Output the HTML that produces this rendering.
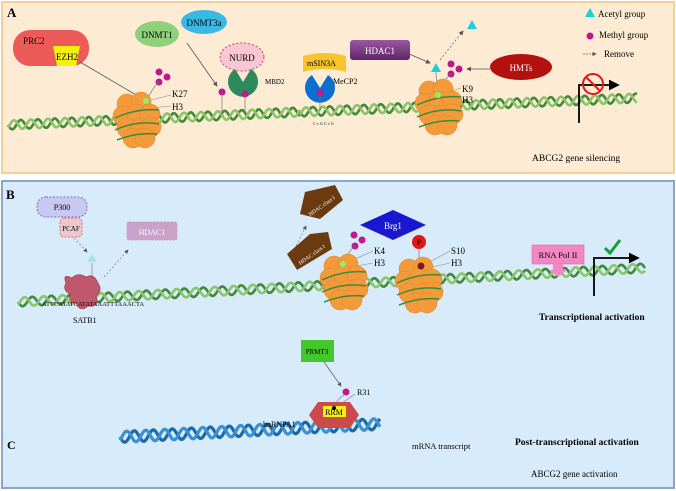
<!DOCTYPE html>
<html><head><meta charset="utf-8"><style>
html,body{margin:0;padding:0;background:#fff}
svg{display:block;font-family:"Liberation Serif",serif}
</style></head><body>
<svg id="s" width="676" height="491" viewBox="0 0 676 491" xmlns="http://www.w3.org/2000/svg">
<defs>
<marker id="ah" markerWidth="6" markerHeight="6" refX="5" refY="3" orient="auto"><path d="M0,0 L6,3 L0,6z" fill="#555"/></marker>
<marker id="bh" markerWidth="6" markerHeight="6" refX="5" refY="3" orient="auto"><path d="M0,0 L6,3 L0,6z" fill="#000"/></marker>
<linearGradient id="hd" x1="0" x2="0" y1="0" y2="1"><stop offset="0" stop-color="#9b57a4"/><stop offset="1" stop-color="#5e2466"/></linearGradient>
</defs>
<rect x="2" y="2" width="672" height="171" fill="#fdebd3" stroke="#f6cf95" stroke-width="2"/>
<rect x="2" y="181" width="672" height="307" fill="#d7ebfb" stroke="#8ba7c6" stroke-width="2"/>
<g id="dna"></g>

<!-- Panel A -->
<text x="7" y="17" font-size="13" font-weight="bold">A</text>
<rect x="13" y="30" width="76" height="36" rx="17" fill="#ec5b57"/>
<text x="23" y="44" font-size="9">PRC2</text>
<path d="M53,46 H80 L76,66 H57z" fill="#f4f10a"/>
<text x="56" y="60" font-size="9">EZH2</text>
<line x1="80" y1="62" x2="143" y2="99" stroke="#555" stroke-width="0.8" marker-end="url(#ah)"/>
<ellipse cx="157" cy="34" rx="22" ry="13" fill="#8fd17a"/>
<text x="157" y="38" font-size="9" text-anchor="middle">DNMT1</text>
<ellipse cx="204" cy="22" rx="23" ry="12" fill="#39b9e5"/>
<text x="204" y="26" font-size="9" text-anchor="middle">DNMT3a</text>
<line x1="187" y1="43" x2="217" y2="86" stroke="#555" stroke-width="0.8" marker-end="url(#ah)"/>
<ellipse cx="242" cy="57" rx="22" ry="14" fill="#f9c6d3" stroke="#d8365f" stroke-dasharray="2,2"/>
<text x="242" y="61" font-size="9" text-anchor="middle">NURD</text>
<path d="M243,82 L256,74 A15,15 0 1 0 256,90 z" fill="#2e8a5d" transform="rotate(-90 243 82)"/>
<text x="265" y="84" font-size="7">MBD2</text>
<path d="M303,56 Q325,50 346,56 V72 Q325,66 303,72z" fill="#f7c32e"/>
<text x="307" y="66" font-size="8">mSIN3A</text>
<path d="M320,88 L333,80 A15,15 0 1 0 333,96 z" fill="#0a6fd0" transform="rotate(-90 320 88)"/>
<text x="333" y="84" font-size="8">MeCP2</text>
<text x="313" y="125" font-size="4">C ≡ G    C ≡ G</text>
<g fill="#c0168f">
<circle cx="222" cy="92" r="3.5"/><circle cx="245" cy="94" r="3.5"/><circle cx="320" cy="93" r="3.5"/>
<circle cx="159" cy="72" r="3.5"/><circle cx="167" cy="77" r="3.5"/><circle cx="159" cy="82" r="3.5"/>
<circle cx="451" cy="64" r="3.5"/><circle cx="459" cy="69" r="3.5"/><circle cx="451" cy="74" r="3.5"/>
</g>
<path d="M222,92 V115 M245,94 V113 M320,93 V110 M159,82 Q152,88 147,101 M451,74 Q444,80 438,90 M436,72 L437,90" stroke="#777" stroke-width="0.7" fill="none"/>
<rect x="350" y="40" width="60" height="20" rx="3" fill="url(#hd)"/>
<text x="380" y="54" font-size="9" fill="#fff" text-anchor="middle">HDAC1</text>
<line x1="400" y1="50" x2="430" y2="63" stroke="#555" stroke-width="0.8" marker-end="url(#ah)"/>
<path d="M436,63 L441,72 L431,72z" fill="#1ccfd9"/>
<line x1="440" y1="60" x2="463" y2="31" stroke="#666" stroke-width="0.8" stroke-dasharray="2,2" marker-end="url(#ah)"/>
<path d="M472,20 L477,29 L467,29z" fill="#1ccfd9"/>
<ellipse cx="521" cy="67" rx="31" ry="13" fill="#b31010"/>
<text x="521" y="71" font-size="9" fill="#fff" text-anchor="middle">HMTs</text>
<line x1="490" y1="69" x2="467" y2="69" stroke="#555" stroke-width="0.8" marker-end="url(#ah)"/>
<text x="462" y="92" font-size="9">K9</text><text x="462" y="103" font-size="9">H3</text>
<text x="172" y="97" font-size="9">K27</text><text x="172" y="110" font-size="9">H3</text>
<path d="M147,101 L171,95 M150,108 L171,106 M439,95 L461,88 M441,99 L461,100" stroke="#888" stroke-width="0.6"/>
<path d="M590,8 L595,17 L585,17z" fill="#1ccfd9"/>
<text x="598" y="17" font-size="9">Acetyl group</text>
<circle cx="590" cy="36" r="3.5" fill="#c0168f"/>
<text x="599" y="38" font-size="9">Methyl group</text>
<line x1="583" y1="54" x2="596" y2="54" stroke="#666" stroke-width="0.7" stroke-dasharray="2,1" marker-end="url(#ah)"/>
<text x="604" y="57" font-size="9">Remove</text>
<path d="M579,123 V85 H618" stroke="#000" stroke-width="1.8" fill="none" marker-end="url(#bh)"/>
<circle cx="593" cy="84" r="10" fill="none" stroke="#e01818" stroke-width="2"/>
<line x1="586" y1="77" x2="600" y2="91" stroke="#e01818" stroke-width="2"/>
<text x="532" y="161" font-size="9.5">ABCG2 gene silencing</text>

<!-- Panel B -->
<text x="6" y="199" font-size="13" font-weight="bold">B</text>
<rect x="37" y="197" width="50" height="20" rx="9" fill="#c8c8f0" stroke="#7c6bd0" stroke-dasharray="2,1.5"/>
<text x="62" y="210" font-size="8" text-anchor="middle">P300</text>
<rect x="60" y="218" width="22" height="19" rx="4" fill="#ecc8cc" stroke="#d0707a" stroke-dasharray="2,1.5"/>
<text x="71" y="231" font-size="7" text-anchor="middle">PCAF</text>
<line x1="74" y1="238" x2="87" y2="252" stroke="#777" stroke-width="0.7" stroke-dasharray="2,2" marker-end="url(#ah)"/>
<path d="M92,254 L97,262 L87,262z" fill="#9de6f0"/>
<line x1="92" y1="263" x2="92" y2="278" stroke="#888" stroke-width="0.7"/>
<line x1="104" y1="277" x2="128" y2="250" stroke="#777" stroke-width="0.7" stroke-dasharray="2,2" marker-end="url(#ah)"/>
<rect x="127" y="222" width="50" height="18" rx="2" fill="#c9a2c9" stroke="#c99ac9" stroke-dasharray="2,1.5"/>
<text x="152" y="235" font-size="8" fill="#fff" text-anchor="middle">HDAC1</text>
<path d="M66,283 Q62,273 72,278 Q78,272 86,277 Q94,273 98,283 Q103,290 96,296 Q100,308 88,306 Q80,313 76,303 Q68,303 70,294 Q62,290 66,283z" fill="#c0586c" stroke="#9a3048" stroke-width="0.6"/>
<text x="42" y="306" font-size="6.5">ATTCATATCATATAAATTTAAACTA</text>
<text x="73" y="323" font-size="8">SATB1</text>
<path d="M305,192 L335,185 L343,200 L320,219 L300,214z" fill="#6b3a0f"/>
<text x="321" y="208" font-size="5.5" fill="#fff" transform="rotate(-35 321 205)" text-anchor="middle">HDAC class I</text>
<path d="M287,254 L310,234 L328,232 L332,249 L297,270z" fill="#6b3a0f"/>
<text x="310" y="257" font-size="5.5" fill="#fff" transform="rotate(-35 310 252)" text-anchor="middle">HDAC class I</text>
<line x1="296" y1="246" x2="306" y2="226" stroke="#777" stroke-width="0.7" stroke-dasharray="2,2" marker-end="url(#ah)"/>
<path d="M360,225 L393,210 L426,225 L393,240z" fill="#1a17d0"/>
<text x="393" y="229" font-size="9" fill="#fff" text-anchor="middle">Brg1</text>
<g fill="#c0168f"><circle cx="354" cy="235" r="3.5"/><circle cx="362" cy="240" r="3.5"/><circle cx="355" cy="246" r="3.5"/></g>
<path d="M355,246 Q348,252 343,263" stroke="#777" stroke-width="0.6" fill="none"/>
<text x="374" y="254" font-size="9">K4</text><text x="374" y="266" font-size="9">H3</text>
<path d="M344,264 L373,251 M346,268 L373,263" stroke="#888" stroke-width="0.6"/>
<circle cx="419" cy="242" r="7" fill="#e31515"/>
<text x="419" y="245" font-size="8" text-anchor="middle">P</text>
<line x1="419" y1="249" x2="419" y2="264" stroke="#777" stroke-width="0.7"/>
<text x="451" y="254" font-size="9">S10</text><text x="451" y="266" font-size="9">H3</text>
<path d="M422,266 L450,251 M424,269 L450,263" stroke="#888" stroke-width="0.6"/>
<rect x="532" y="245" width="52" height="19" fill="#f487c3" stroke="#e062a8" stroke-width="0.6"/>
<text x="558" y="258" font-size="8.5" text-anchor="middle">RNA Pol II</text>
<path d="M553,264 H563 V270 H567 L558,277 L549,270 H553z" fill="#f487c3"/>
<path d="M594,296 V258 H638" stroke="#000" stroke-width="1.8" fill="none" marker-end="url(#bh)"/>
<path d="M605,248 L610,253 L620,240" stroke="#12a03a" stroke-width="3" fill="none"/>
<text x="539" y="320" font-size="9.5" font-weight="bold">Transcriptional activation</text>

<!-- Panel C -->
<rect x="301" y="340" width="33" height="22" fill="#44c72a"/>
<text x="317" y="354" font-size="7" text-anchor="middle">PRMT3</text>
<line x1="324" y1="362" x2="341" y2="386" stroke="#555" stroke-width="0.7" marker-end="url(#ah)"/>
<circle cx="346" cy="392" r="3.5" fill="#c0168f"/>
<path d="M344,395 Q336,400 334,408 M335,408 L355,394" stroke="#777" stroke-width="0.6" fill="none"/>
<text x="357" y="395" font-size="8">R31</text>
<path d="M309,415 L318,402 L350,402 L359,415 L350,428 L318,428z" fill="#cc4a4a"/>
<rect x="323" y="406" width="23" height="11" fill="#f4f10a"/>
<text x="334" y="415" font-size="8" text-anchor="middle">RRM</text>
<circle cx="334" cy="408" r="2" fill="#000"/>
<text x="263" y="427" font-size="8">hnRNPA1</text>
<text x="412" y="449" font-size="8.5">mRNA transcript</text>
<text x="7" y="449" font-size="12" font-weight="bold">C</text>
<text x="515" y="445" font-size="9.5" font-weight="bold">Post-transcriptional activation</text>
<text x="531" y="477" font-size="9">ABCG2 gene activation</text>
<g id="nuc"></g>
</svg>
<script>
var ns="http://www.w3.org/2000/svg",g=document.getElementById('dna');
function helix(x0,y0,x1,y1,amp,per,col,w){
 for(var k=0;k<2;k++){var d="";for(var x=x0;x<=x1;x+=1){var t=(x-x0)/(x1-x0);var y=y0+(y1-y0)*t+amp*Math.sin((x-x0)/per*2*Math.PI+k*Math.PI*0.8);d+=(x==x0?"M":"L")+x+","+y.toFixed(1);}
 var p=document.createElementNS(ns,"path");p.setAttribute("d",d);p.setAttribute("stroke",k?col[1]:col[0]);p.setAttribute("stroke-width",w);p.setAttribute("fill","none");g.appendChild(p);}
}
helix(8,125,300,112,4.5,17,["#3e8a3a","#8bc46a"],2.6);
helix(300,112,637,98,4.5,17,["#3e8a3a","#8bc46a"],2.6);
helix(18,302,645,268,4.5,19,["#3e8a3a","#8bc46a"],2.6);
helix(120,437,380,424,5.5,19,["#1a6aa8","#3c8fd0"],3.2);
var n=document.getElementById('nuc');
function nuc(cx,cy){var pts=[[-10,-12],[4,-14],[-14,0],[0,-2],[13,-2],[-10,12],[4,12],[14,11],[-4,22],[8,22]];
 pts.forEach(function(p){var c=document.createElementNS(ns,"circle");c.setAttribute("cx",cx+p[0]);c.setAttribute("cy",cy+p[1]);c.setAttribute("r",10);c.setAttribute("fill","#f39a3a");c.setAttribute("stroke","#e0832a");c.setAttribute("stroke-width","0.5");n.appendChild(c);});
 var e=document.createElementNS(ns,"path");e.setAttribute("d","M"+(cx-22)+","+(cy+2)+" Q"+cx+","+(cy-8)+" "+(cx+22)+","+(cy-6)+" M"+(cx-22)+","+(cy+14)+" Q"+cx+","+(cy+4)+" "+(cx+22)+","+(cy+8)+" M"+(cx-20)+","+(cy+24)+" Q"+cx+","+(cy+16)+" "+(cx+20)+","+(cy+18));
 e.setAttribute("stroke","#3e8a3a");e.setAttribute("stroke-width","1.5");e.setAttribute("fill","none");n.appendChild(e);
}
nuc(137,116);nuc(439,103);nuc(344,278);nuc(419,281);
[[146,101],[438,95],[343,264]].forEach(function(p){var c=document.createElementNS(ns,"circle");c.setAttribute("cx",p[0]);c.setAttribute("cy",p[1]);c.setAttribute("r",3);c.setAttribute("fill","#8ef06a");n.appendChild(c);});
var c=document.createElementNS(ns,"circle");c.setAttribute("cx",421);c.setAttribute("cy",266);c.setAttribute("r",3.5);c.setAttribute("fill","#7a1a2a");n.appendChild(c);
</script>
</body></html>
